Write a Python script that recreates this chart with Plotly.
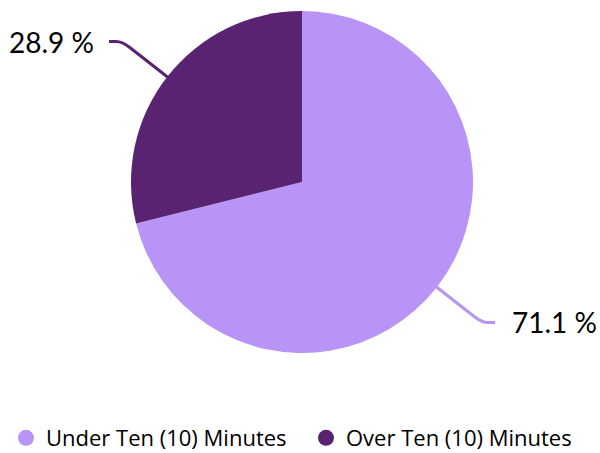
import math
import plotly.graph_objects as go

# ---- data ----
labels = ["Under Ten (10) Minutes", "Over Ten (10) Minutes"]
values = [71.1, 28.9]
colors = ["#B794F6", "#5A2371"]

# ---- layout constants (pixels) ----
W, H = 600, 453
CX, CY, R = 302, 182, 171
R_DOMAIN = 171
FONT = "Lato, 'Noto Sans', sans-serif"
LEGEND_FONT = "'Open Sans', sans-serif"

fig = go.Figure()
fig.add_trace(go.Pie(
    labels=labels, values=values, sort=False, direction="clockwise", rotation=0,
    marker=dict(colors=colors, line=dict(width=0)),
    textinfo="none", hoverinfo="label+percent", showlegend=False,
    domain=dict(x=[(CX - R_DOMAIN) / W, (CX + R_DOMAIN) / W],
                y=[1 - (CY + R_DOMAIN) / H, 1 - (CY - R_DOMAIN) / H]),
))

# legend entries with circle markers
for lab, col in zip(labels, colors):
    fig.add_trace(go.Scatter(x=[None], y=[None], mode="markers", name=lab,
                             marker=dict(symbol="circle", size=22, color=col)))

def px(x):
    return x / W

def py(y):
    return 1 - y / H

total = sum(values)
shapes, annots = [], []
cum = 0.0
for v, col in zip(values, colors):
    mid = (cum + v / 2) / total * 2 * math.pi
    cum += v
    sx, sy = math.sin(mid), -math.cos(mid)
    side = 1 if sx >= 0 else -1
    p0 = (CX + R * 0.96 * sx, CY + R * 0.96 * sy)
    p1 = (CX + R * 1.28 * sx, CY + R * 1.28 * sy)
    pe = (CX + R * 1.335 * sx, CY + R * 1.335 * sy)
    p2 = (pe[0] + side * 6, pe[1])
    p3 = (pe[0] + side * 13, pe[1])
    path = (f"M {px(p0[0])},{py(p0[1])} L {px(p1[0])},{py(p1[1])} "
            f"Q {px(pe[0])},{py(pe[1])} {px(p2[0])},{py(p2[1])} L {px(p3[0])},{py(p3[1])}")
    shapes.append(dict(type="path", path=path, xref="paper", yref="paper",
                       line=dict(color=col, width=3)))
    pct = v / total * 100
    annots.append(dict(x=px(p3[0] + side * (13 if side < 0 else 15)), y=py(p3[1]),
                       xref="paper", yref="paper",
                       text=f"{pct:.1f} %", showarrow=False,
                       xanchor="left" if side > 0 else "right", yanchor="middle",
                       font=dict(family=FONT, size=28, color="#000000")))

fig.update_layout(
    width=W, height=H, margin=dict(l=0, r=0, t=0, b=0, autoexpand=False),
    paper_bgcolor="white", plot_bgcolor="white",
    xaxis=dict(visible=False), yaxis=dict(visible=False),
    shapes=shapes, annotations=annots,
    legend=dict(orientation="h", x=306 / W, xanchor="center",
                y=1 - 438 / H, yanchor="middle", yref="container", xref="container",
                entrywidth=255, entrywidthmode="pixels",
                font=dict(family=LEGEND_FONT, size=22, color="#000000"), itemsizing="trace"),
)
fig.write_html("out.html", config={"displayModeBar": False},
               post_script="document.body.style.margin='0';document.body.style.overflow='hidden';")
